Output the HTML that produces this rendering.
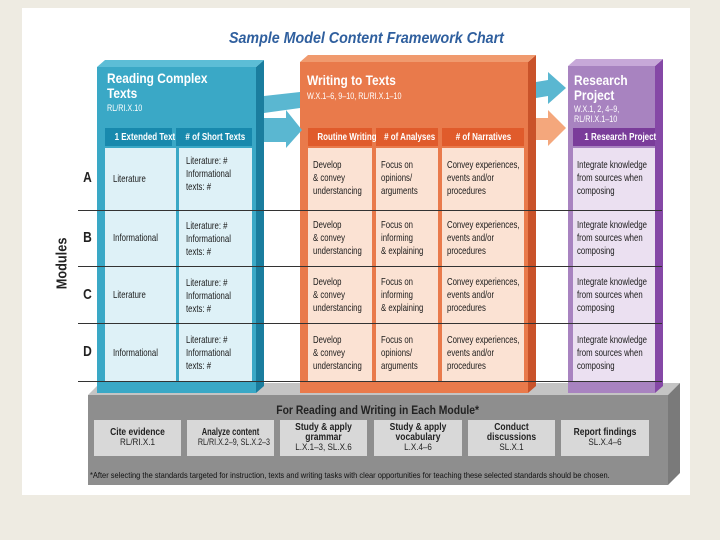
<!DOCTYPE html>
<html><head><meta charset="utf-8"><style>
*{margin:0;padding:0;box-sizing:border-box}
body{width:720px;height:540px;background:#eeebe2;position:relative;overflow:hidden;font-family:"Liberation Sans",sans-serif}
.a{position:absolute}
.t{font-size:10.5px;line-height:12.8px;color:#1a1a1a;transform:scaleX(.74);transform-origin:0 0;white-space:nowrap}
.h{color:#fff;font-weight:bold;font-size:10.5px;text-align:center;line-height:18px;white-space:nowrap;overflow:visible}
.h span{display:inline-block;transform:scaleX(.76)}
.ln{position:absolute;left:78px;width:584px;height:1px;background:#333}
.lab{position:absolute;left:82px;font-weight:bold;font-size:15px;color:#222;transform:scaleX(.8)}
.gb{position:absolute;top:420px;height:36px;background:#d8d8d8;text-align:center;font-size:9.5px;line-height:10px;color:#222;display:flex;flex-direction:column;justify-content:center;white-space:nowrap}
.gb div{transform:scaleX(.85)}
.gb b{font-size:10px}
.big{color:#fff;font:bold 14px/15px 'Liberation Sans',sans-serif;transform:scaleX(.85);transform-origin:0 0;white-space:nowrap}
.sm{color:#fff;font-size:9px;line-height:10px;transform:scaleX(.8);transform-origin:0 0;white-space:nowrap}
</style></head><body>
<div class="a" style="left:22px;top:8px;width:668px;height:487px;background:#fff"></div>
<div class="a" style="left:0;top:30px;width:732px;text-align:center;font:bold italic 15.5px 'Liberation Sans',sans-serif;color:#2f5f9e"><span style="display:inline-block;transform:scaleX(.92)">Sample Model Content Framework Chart</span></div>

<svg class="a" style="left:0;top:0" width="720" height="540">
<polygon points="88,395 100,383 680,383 668,395" fill="#c4c4c4"/>
<polygon points="668,395 680,383 680,473 668,485" fill="#7a7a7a"/>
<rect x="88" y="395" width="580" height="90" fill="#8e8e8e"/>
<polygon points="256,67 264,60 264,386 256,393" fill="#1a7d9e"/>
<polygon points="97,67 105,60 264,60 256,67" fill="#5cbdd6"/>
<rect x="97" y="67" width="159" height="326" fill="#3aa8c6"/>
<polygon points="528,62 536,55 536,386 528,393" fill="#c9532a"/>
<polygon points="300,62 308,55 536,55 528,62" fill="#f09a6e"/>
<rect x="300" y="62" width="228" height="331" fill="#e97a4b"/>
<polygon points="655,66 663,59 663,386 655,393" fill="#8548a6"/>
<polygon points="568,66 576,59 663,59 655,66" fill="#c7a8d8"/>
<rect x="568" y="66" width="87" height="327" fill="#a883c0"/>
<polygon points="264,96 300,92 300,108 264,113" fill="#5ab7d1"/>
<polygon points="264,118 286,118 286,110 302,130 286,148 286,142 264,142" fill="#5ab7d1"/>
<polygon points="536,82 548,80 548,72 566,88 548,104 548,96 536,98" fill="#5ab7d1"/>
<polygon points="536,118 548,118 548,110 566,128 548,146 548,140 536,140" fill="#f4a77c"/>
</svg>

<div class="a big" style="left:107px;top:71px">Reading Complex<br>Texts</div>
<div class="a sm" style="left:107px;top:103px">RL/RI.X.10</div>
<div class="a h" style="left:105px;top:128px;width:67px;background:#1889ad"><span>1 Extended Text</span></div>
<div class="a h" style="left:176px;top:128px;width:76px;background:#1889ad"><span># of Short Texts</span></div>
<div class="a" style="left:105px;top:148px;width:147px;height:234px;background:#def1f7"></div>
<div class="a" style="left:176px;top:148px;width:3px;height:234px;background:#3aa8c6"></div>

<div class="a big" style="left:307px;top:73px">Writing to Texts</div>
<div class="a sm" style="left:307px;top:91px">W.X.1–6, 9–10, RL/RI.X.1–10</div>
<div class="a h" style="left:308px;top:128px;width:64px;background:#e05b2b"><span>Routine Writing</span></div>
<div class="a h" style="left:376px;top:128px;width:62px;background:#e05b2b"><span># of Analyses</span></div>
<div class="a h" style="left:442px;top:128px;width:82px;background:#e05b2b"><span># of Narratives</span></div>
<div class="a" style="left:308px;top:148px;width:216px;height:234px;background:#fbe2d3"></div>
<div class="a" style="left:372px;top:148px;width:4px;height:234px;background:#e97a4b"></div>
<div class="a" style="left:438px;top:148px;width:4px;height:234px;background:#e97a4b"></div>

<div class="a big" style="left:574px;top:73px">Research<br>Project</div>
<div class="a sm" style="left:574px;top:104px">W.X.1, 2, 4–9,<br>RL/RI.X.1–10</div>
<div class="a h" style="left:573px;top:128px;width:82px;background:#7a3c9a"><span>1 Research Project</span></div>
<div class="a" style="left:573px;top:148px;width:82px;height:234px;background:#ebe0f1"></div>

<div class="ln" style="top:210px"></div>
<div class="ln" style="top:266px"></div>
<div class="ln" style="top:323px"></div>
<div class="ln" style="top:381px"></div>

<div class="lab" style="top:169px">A</div>
<div class="lab" style="top:229px">B</div>
<div class="lab" style="top:286px">C</div>
<div class="lab" style="top:343px">D</div>
<div class="a" style="left:34px;top:257px;width:56px;text-align:center;transform:rotate(-90deg) scaleX(.85);font:bold 15px 'Liberation Sans',sans-serif;color:#222">Modules</div>

<div class="a t" style="left:113px;top:173px">Literature</div>
<div class="a t" style="left:113px;top:232px">Informational</div>
<div class="a t" style="left:113px;top:289px">Literature</div>
<div class="a t" style="left:113px;top:347px">Informational</div>

<div class="a t" style="left:186px;top:155px">Literature: #<br>Informational<br>texts: #</div>
<div class="a t" style="left:186px;top:220px">Literature: #<br>Informational<br>texts: #</div>
<div class="a t" style="left:186px;top:277px">Literature: #<br>Informational<br>texts: #</div>
<div class="a t" style="left:186px;top:334px">Literature: #<br>Informational<br>texts: #</div>

<div class="a t" style="left:313px;top:159px">Develop<br>&amp; convey<br>understancing</div>
<div class="a t" style="left:313px;top:219px">Develop<br>&amp; convey<br>understancing</div>
<div class="a t" style="left:313px;top:276px">Develop<br>&amp; convey<br>understancing</div>
<div class="a t" style="left:313px;top:334px">Develop<br>&amp; convey<br>understancing</div>

<div class="a t" style="left:381px;top:159px">Focus on<br>opinions/<br>arguments</div>
<div class="a t" style="left:381px;top:219px">Focus on<br>informing<br>&amp; explaining</div>
<div class="a t" style="left:381px;top:276px">Focus on<br>informing<br>&amp; explaining</div>
<div class="a t" style="left:381px;top:334px">Focus on<br>opinions/<br>arguments</div>

<div class="a t" style="left:447px;top:159px">Convey experiences,<br>events and/or<br>procedures</div>
<div class="a t" style="left:447px;top:219px">Convey experiences,<br>events and/or<br>procedures</div>
<div class="a t" style="left:447px;top:276px">Convey experiences,<br>events and/or<br>procedures</div>
<div class="a t" style="left:447px;top:334px">Convey experiences,<br>events and/or<br>procedures</div>

<div class="a t" style="left:577px;top:159px">Integrate knowledge<br>from sources when<br>composing</div>
<div class="a t" style="left:577px;top:219px">Integrate knowledge<br>from sources when<br>composing</div>
<div class="a t" style="left:577px;top:276px">Integrate knowledge<br>from sources when<br>composing</div>
<div class="a t" style="left:577px;top:334px">Integrate knowledge<br>from sources when<br>composing</div>

<div class="a" style="left:88px;top:405px;width:580px;text-align:center;font-weight:bold;font-size:11.5px;color:#222"><span style="display:inline-block;transform:scaleX(.9)">For Reading and Writing in Each Module*</span></div>
<div class="gb" style="left:94px;width:87px"><div><b>Cite evidence</b><br>RL/RI.X.1</div></div>
<div class="gb" style="left:187px;width:87px"><div style="transform:scaleX(.75)"><b>Analyze content</b><br>RL/RI.X.2–9, SL.X.2–3</div></div>
<div class="gb" style="left:280px;width:87px"><div><b>Study &amp; apply<br>grammar</b><br>L.X.1–3, SL.X.6</div></div>
<div class="gb" style="left:374px;width:88px"><div><b>Study &amp; apply<br>vocabulary</b><br>L.X.4–6</div></div>
<div class="gb" style="left:468px;width:87px"><div><b>Conduct<br>discussions</b><br>SL.X.1</div></div>
<div class="gb" style="left:561px;width:88px"><div><b>Report findings</b><br>SL.X.4–6</div></div>
<div class="a" style="left:90px;top:470px;font-size:8.5px;color:#111;white-space:nowrap;transform:scaleX(.88);transform-origin:0 0">*After selecting the standards targeted for instruction, texts and writing tasks with clear opportunities for teaching these selected standards should be chosen.</div>
</body></html>
